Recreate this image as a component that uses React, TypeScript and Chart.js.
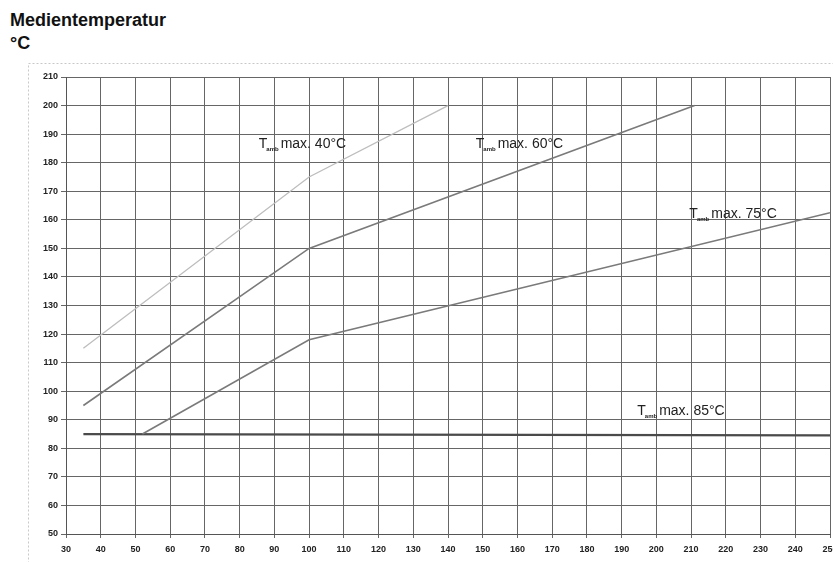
import React, { useEffect, useRef } from "react";
import { Chart, registerables } from "chart.js";

Chart.register(...registerables);

const xMin = 30;
const xMax = 250;
const yMin = 50;
const yMax = 210;

const line40 = [
  { x: 35, y: 115 },
  { x: 100, y: 175 },
  { x: 140, y: 200 },
];
const line60 = [
  { x: 35, y: 95 },
  { x: 100, y: 150 },
  { x: 211, y: 200 },
];
const line75 = [
  { x: 52, y: 85 },
  { x: 100, y: 118 },
  { x: 250, y: 162.5 },
];
const line85 = [
  { x: 35, y: 85 },
  { x: 250, y: 84.5 },
];

const labelTexts = ["max. 40°C", "max. 60°C", "max. 75°C", "max. 85°C"];
const labelPos = [
  { x: 85.5, y: 185 },
  { x: 148, y: 185 },
  { x: 209.5, y: 160.5 },
  { x: 194.5, y: 91.8 },
];

const FONT = "'Liberation Sans Narrow', 'Liberation Sans', Arial, sans-serif";

const annotPlugin = {
  id: "annot",
  beforeDraw(chart: any) {
    const ctx = chart.ctx;
    ctx.save();
    ctx.strokeStyle = "#c8c8c8";
    ctx.setLineDash([2, 2]);
    ctx.lineWidth = 1;
    ctx.strokeRect(28.5, 63.5, 850, 520);
    ctx.restore();
  },
  afterDatasetsDraw(chart: any) {
    const ctx = chart.ctx;
    const xs = chart.scales.x;
    const ys = chart.scales.y;
    ctx.save();
    ctx.fillStyle = "#222";
    ctx.textBaseline = "alphabetic";
    labelPos.forEach((p, i) => {
      const px = xs.getPixelForValue(p.x);
      const py = ys.getPixelForValue(p.y);
      ctx.font = `14px ${FONT}`;
      ctx.fillText("T", px, py);
      const tw = ctx.measureText("T").width;
      ctx.font = `bold 6px ${FONT}`;
      ctx.fillText("amb", px + tw - 1, py + 3);
      const aw = ctx.measureText("amb").width;
      ctx.font = `14px ${FONT}`;
      ctx.fillText(labelTexts[i], px + tw + aw + 1, py);
    });
    ctx.restore();
  },
};

export default function App() {
  const ref = useRef<HTMLCanvasElement>(null);
  useEffect(() => {
    if (!ref.current) return;
    const chart = new Chart(ref.current, {
      type: "line",
      data: {
        datasets: [
          { data: line40, borderColor: "#bdbdbd", borderWidth: 1.3, pointRadius: 0, tension: 0 },
          { data: line60, borderColor: "#7a7a7a", borderWidth: 1.6, pointRadius: 0, tension: 0 },
          { data: line75, borderColor: "#7a7a7a", borderWidth: 1.6, pointRadius: 0, tension: 0 },
          { data: line85, borderColor: "#4a4a4a", borderWidth: 2.2, pointRadius: 0, tension: 0 },
        ],
      },
      options: {
        animation: false,
        responsive: false,
        layout: { padding: { left: 0, top: 77, right: 3, bottom: 0 } },
        plugins: { legend: { display: false }, tooltip: { enabled: false } },
        scales: {
          x: {
            type: "linear",
            min: xMin,
            max: xMax,
            afterFit(scale: any) {
              scale.height = 28;
              scale.paddingRight = 0;
              scale.paddingLeft = 0;
            },
            ticks: {
              stepSize: 10,
              color: "#222",
              padding: 6,
              maxRotation: 0,
              autoSkip: false,
              font: { family: FONT, size: 9, weight: "bold" },
            },
            grid: { color: "#666", lineWidth: 1, tickLength: 4, drawTicks: true },
            border: { color: "#555", dash: [] },
          },
          y: {
            type: "linear",
            min: yMin,
            max: yMax,
            afterFit(scale: any) {
              scale.width = 66;
            },
            ticks: {
              stepSize: 10,
              color: "#222",
              padding: 3,
              autoSkip: false,
              font: { family: FONT, size: 9, weight: "bold" },
            },
            grid: { color: "#666", lineWidth: 1, tickLength: 5 },
            border: { color: "#555", dash: [] },
          },
        },
      },
      plugins: [annotPlugin],
    });
    return () => chart.destroy();
  }, []);
  return (
    <div style={{ position: "fixed", left: 0, top: 0, width: 833, height: 562, background: "#fff", overflow: "hidden" }}>
      <div style={{ position: "absolute", left: 10, top: 9, font: "bold 18px 'Liberation Sans', Arial, sans-serif", color: "#111", lineHeight: "23px" }}>
        Medientemperatur
        <br />
        °C
      </div>
      <canvas ref={ref} width={833} height={562} style={{ position: "absolute", left: 0, top: 0 }} />
    </div>
  );
}
